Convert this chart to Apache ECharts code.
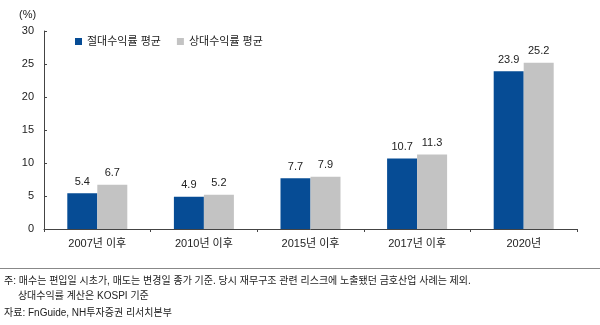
<!DOCTYPE html>
<html><head><meta charset="utf-8">
<script src="https://cdn.jsdelivr.net/npm/echarts@6/dist/echarts.min.js"></script>
<style>html,body{margin:0;padding:0;background:#fff}#c{width:600px;height:325px}</style>
</head><body><div id="c"></div>
<script>
const categories = ['2007년 이후', '2010년 이후', '2015년 이후', '2017년 이후', '2020년'];
const absReturn = [5.4, 4.9, 7.7, 10.7, 23.9];
const relReturn = [6.7, 5.2, 7.9, 11.3, 25.2];
const seriesNames = ['절대수익률 평균', '상대수익률 평균'];
const yTicks = [0, 5, 10, 15, 20, 25, 30];
const footnotes = ['주: 매수는 편입일 시초가, 매도는 변경일 종가 기준. 당시 재무구조 관련 리스크에 노출됐던 금호산업 사례는 제외.',
  '     상대수익률 계산은 KOSPI 기준', '자료: FnGuide, NH투자증권 리서치본부'];
const FONT = '"Liberation Sans", "Noto Sans CJK KR", sans-serif';
const chart = echarts.init(document.getElementById('c'));
chart.setOption({
  animation: false,
  textStyle: { fontFamily: FONT },
  grid: { left: 44, right: 23, top: 31, bottom: 96 },
  legend: {
    left: 70, top: 31, itemWidth: 7, itemHeight: 7, itemGap: 16,
    icon: 'rect',
    textStyle: { fontSize: 11, color: '#222', fontFamily: FONT },
    data: seriesNames
  },
  graphic: [
    { type: 'text', left: 19, top: 9, style: { text: '(%)', fontSize: 11, fill: '#222', fontFamily: FONT } },
    { type: 'line', shape: { x1: 0, y1: 268.5, x2: 600, y2: 268.5 }, style: { stroke: '#888', lineWidth: 1 } },
    { type: 'text', left: 4, top: 276, style: { text: footnotes[0], fontSize: 10, fill: '#222', fontFamily: FONT } },
    { type: 'text', left: 4, top: 291, style: { text: footnotes[1], fontSize: 10, fill: '#222', fontFamily: FONT } },
    { type: 'text', left: 4, top: 308, style: { text: footnotes[2], fontSize: 10, fill: '#222', fontFamily: FONT } }
  ],
  xAxis: {
    type: 'category', data: categories,
    axisLine: { lineStyle: { color: '#444' } },
    axisTick: { show: true, inside: false, length: 3, lineStyle: { color: '#444' } },
    axisLabel: { fontSize: 11, color: '#222', margin: 9 }
  },
  yAxis: {
    type: 'value', min: 0, max: 30, interval: 5,
    axisLine: { show: true, lineStyle: { color: '#444' } },
    axisTick: { show: true, inside: true, length: 3, lineStyle: { color: '#444' } },
    splitLine: { show: false },
    axisLabel: { fontSize: 11, color: '#222', margin: 10,
      formatter: v => yTicks.includes(v) ? String(v) : '' }
  },
  series: [
    { name: seriesNames[0], type: 'bar', data: absReturn, barWidth: 30, barGap: '0%',
      itemStyle: { color: '#064C95' },
      label: { show: true, position: 'top', fontSize: 11, color: '#222', distance: 6, formatter: p => p.value.toFixed(1) } },
    { name: seriesNames[1], type: 'bar', data: relReturn, barWidth: 30, barGap: '0%',
      itemStyle: { color: '#C3C3C3' },
      label: { show: true, position: 'top', fontSize: 11, color: '#222', distance: 6, formatter: p => p.value.toFixed(1) } }
  ]
});
</script></body></html>
